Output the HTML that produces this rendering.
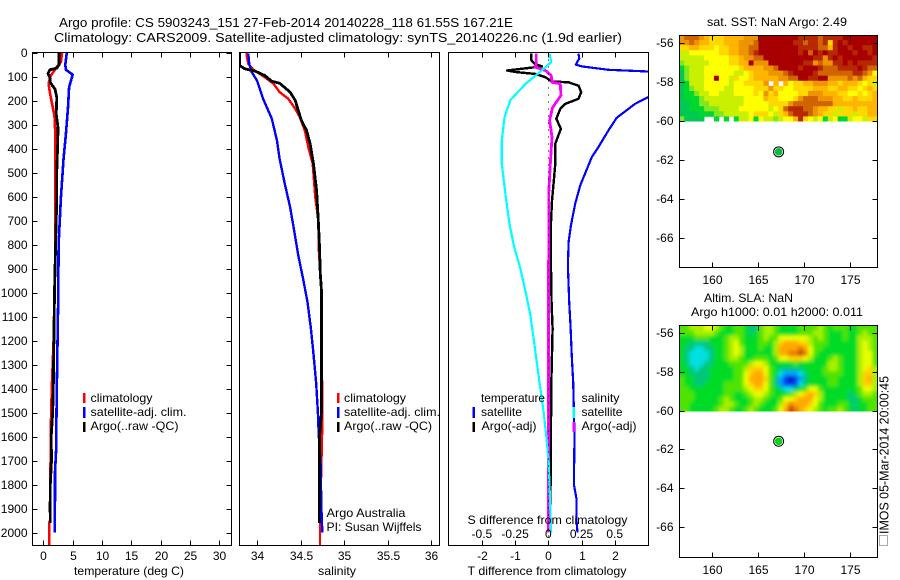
<!DOCTYPE html>
<html lang="en">
<head>
<meta charset="utf-8">
<title>Argo profile 5903243_151</title>
<style>
html,body{margin:0;padding:0;background:#fff;}
svg{display:block;}
text{font-family:"Liberation Sans",sans-serif;font-size:12px;fill:#000;}
.t{font-size:13px;}
</style>
</head>
<body>
<svg id="fig" xmlns="http://www.w3.org/2000/svg" width="900" height="580" viewBox="0 0 900 580">
<defs>
<clipPath id="c1"><rect x="32.5" y="52.5" width="199" height="493"/></clipPath>
<clipPath id="c2"><rect x="239.5" y="52.5" width="200" height="493"/></clipPath>
<clipPath id="c3"><rect x="448.5" y="52.5" width="200" height="493"/></clipPath>
<clipPath id="cm1"><rect x="679" y="35" width="198" height="86.5"/></clipPath>
<clipPath id="cm2"><rect x="679" y="325" width="198" height="86.5"/></clipPath>
<filter id="soft" x="-5%" y="-5%" width="110%" height="110%"><feGaussianBlur stdDeviation="1.9"/></filter>
</defs>
<rect width="900" height="580" fill="#fff"/>
<text class="t" x="59" y="27" textLength="454" lengthAdjust="spacingAndGlyphs">Argo profile: CS 5903243_151 27-Feb-2014 20140228_118 61.55S 167.21E</text>
<text class="t" x="54" y="42" textLength="568" lengthAdjust="spacingAndGlyphs">Climatology: CARS2009. Satellite-adjusted climatology: synTS_20140226.nc (1.9d earlier)</text>
<text x="707" y="26" textLength="140" lengthAdjust="spacingAndGlyphs">sat. SST: NaN Argo: 2.49</text>
<text x="704" y="302" textLength="89" lengthAdjust="spacingAndGlyphs">Altim. SLA: NaN</text>
<text x="691" y="316" textLength="172" lengthAdjust="spacingAndGlyphs">Argo h1000: 0.01 h2000: 0.011</text>
<g id="heat1" clip-path="url(#cm1)"></g>
<g clip-path="url(#cm2)"><g id="heat2" filter="url(#soft)"></g></g>
<g id="lines1" clip-path="url(#c1)" shape-rendering="crispEdges"></g>
<g id="lines2" clip-path="url(#c2)" shape-rendering="crispEdges"></g>
<g id="lines3" clip-path="url(#c3)" shape-rendering="crispEdges"></g>
<g id="axes" shape-rendering="crispEdges"></g>
<g id="labels"></g>
<text x="74" y="575" textLength="110" lengthAdjust="spacingAndGlyphs">temperature (deg C)</text>
<text x="318" y="575" textLength="38" lengthAdjust="spacingAndGlyphs">salinity</text>
<text x="467.5" y="575" textLength="159" lengthAdjust="spacingAndGlyphs">T difference from climatology</text>
<text x="467.5" y="524" textLength="160" lengthAdjust="spacingAndGlyphs">S difference from climatology</text>
<g>
<rect x="83" y="393" width="2.5" height="10" fill="#f00"/>
<text x="90.5" y="402" textLength="62" lengthAdjust="spacingAndGlyphs">climatology</text>
<rect x="83" y="407" width="2.5" height="11" fill="#00f"/>
<text x="90.5" y="416" textLength="96" lengthAdjust="spacingAndGlyphs">satellite-adj. clim.</text>
<rect x="83" y="422" width="2.5" height="10" fill="#000"/>
<text x="90.5" y="430" textLength="88" lengthAdjust="spacingAndGlyphs">Argo(..raw -QC)</text>
</g>
<g>
<rect x="337" y="393" width="2.5" height="10" fill="#f00"/>
<text x="344" y="402" textLength="62" lengthAdjust="spacingAndGlyphs">climatology</text>
<rect x="337" y="407" width="2.5" height="11" fill="#00f"/>
<text x="344" y="416" textLength="96" lengthAdjust="spacingAndGlyphs">satellite-adj. clim.</text>
<rect x="337" y="422" width="2.5" height="10" fill="#000"/>
<text x="344" y="430" textLength="88" lengthAdjust="spacingAndGlyphs">Argo(..raw -QC)</text>
<text x="326.5" y="517" textLength="79" lengthAdjust="spacingAndGlyphs">Argo Australia</text>
<text x="326.5" y="531" textLength="95" lengthAdjust="spacingAndGlyphs">PI: Susan Wijffels</text>
</g>
<g>
<text x="481" y="402" textLength="64" lengthAdjust="spacingAndGlyphs">temperature</text>
<rect x="472.5" y="407" width="2.5" height="11" fill="#00f"/>
<text x="481" y="416" textLength="41" lengthAdjust="spacingAndGlyphs">satellite</text>
<rect x="472.5" y="422" width="2.5" height="10" fill="#000"/>
<text x="481.5" y="430" textLength="55" lengthAdjust="spacingAndGlyphs">Argo(-adj)</text>
<text x="581.5" y="402" textLength="38" lengthAdjust="spacingAndGlyphs">salinity</text>
<rect x="572.5" y="407" width="2.5" height="11" fill="#0ff"/>
<text x="581.5" y="416" textLength="41" lengthAdjust="spacingAndGlyphs">satellite</text>
<rect x="572.5" y="422" width="2.5" height="10" fill="#f0f"/>
<text x="581.5" y="430" textLength="55" lengthAdjust="spacingAndGlyphs">Argo(-adj)</text>
</g>
<rect x="879.5" y="535.5" width="8" height="10" fill="none" stroke="#555" stroke-width="1" stroke-dasharray="1 1" shape-rendering="crispEdges"/>
<text style="font-size:13px" transform="translate(888.5,534) rotate(-90)" x="0" y="0" textLength="158" lengthAdjust="spacingAndGlyphs">IMOS 05-Mar-2014 20:00:45</text>
<script>
// ---------- Temperature panel data ----------
const tempClimDepths=[0,40,60,100,130,165,215,265,340,600,850,1000,1200,1400,1600,1700,1800,1950,1960,2054];
const tempClimValues=[3.2,3.0,2.3,1.2,0.9,1.1,1.5,1.9,2.05,2.05,2.05,1.9,1.75,1.45,1.25,1.25,1.15,1.15,1.0,1.0];
const tempSatDepths=[0,50,72,92,145,230,340,440,605,800,1000,1400,1500,1650,1750,1850,2000];
const tempSatValues=[4.0,3.75,3.85,5.0,4.4,4.2,3.85,3.45,3.0,2.6,2.55,2.3,2.25,2.2,2.0,2.0,1.95];
const tempArgoDepths=[0,50,65,72,88,110,125,153,188,257,313,382,493,605,800,1000,1200,1400,1500,1600,1700,1800,1900,1960];
const tempArgoValues=[2.7,2.7,2.3,1.1,0.8,1.2,1.2,2.0,2.3,2.2,2.5,2.45,2.3,2.3,2.1,1.9,1.8,1.7,1.6,1.35,1.4,1.2,1.15,1.2];
// ---------- Salinity panel data ----------
const salClimDepths=[0,20,47,72,103,130,165,193,235,267,325,394,464,603,700,820,1000,1500,1550,1960,2054];
const salClimValues=[33.88,33.885,33.9,33.96,34.09,34.19,34.26,34.36,34.44,34.49,34.55,34.59,34.64,34.67,34.705,34.71,34.74,34.75,34.75,34.724,34.724];
const salSatDepths=[5,47,82,117,193,276,367,443,547,644,721,846,943,1040,1150,1248,1380,1500,1600,1700,1900,2000];
const salSatValues=[33.9,33.91,33.94,34.0,34.07,34.17,34.23,34.26,34.32,34.38,34.417,34.475,34.53,34.58,34.62,34.647,34.68,34.7,34.71,34.73,34.74,34.75];
const salArgoDepths=[0,54,68,78,96,120,128,165,200,242,283,325,380,464,575,700,818,915,1000,1500,1600,1800,1960];
const salArgoValues=[33.8,33.8,33.86,33.98,34.09,34.17,34.26,34.38,34.44,34.475,34.51,34.57,34.61,34.65,34.685,34.705,34.72,34.727,34.743,34.74,34.72,34.72,34.715];
// ---------- Difference panel data ----------
const diffTSatDepths=[5,25,51,58,72,79,120,175,186,214,272,325,394,436,554,630,721,790,888,1040,1138,1276,1374,1600,1800,1860,1950,2000];
const diffTSatValues=[0.91,0.93,0.83,1.01,1.81,3.01,4.6,3.6,3.01,2.61,2.06,1.81,1.51,1.31,0.96,0.81,0.68,0.61,0.59,0.63,0.67,0.71,0.75,0.79,0.77,0.85,0.85,0.88];
const diffTArgoDepths=[5,33,47,58,75,82,89,103,121,124,138,165,193,214,235,276,318,380,464,617,742,900,1050,1150,1380,1960];
const diffTArgoValues=[-0.51,-0.51,-0.41,-0.19,-1.24,-0.94,-0.39,-0.09,0.11,0.61,0.91,0.99,0.91,0.51,0.36,0.24,0.38,0.21,0.21,0.11,0.07,0.08,0.1,0.13,0.09,0.06];
const diffSArgoDepths=[5,47,61,75,96,124,130,179,230,283,353,436,589,742,2000];
const diffSArgoValues=[-0.09,-0.09,-0.1,-0.022,0.022,0.028,0.09,0.095,0.032,0.01,0.028,0.018,0.003,0.003,0.0];
const diffSSatDepths=[5,40,75,130,197,269,367,464,603,721,804,901,999,1096,1193,1276,1380,1500,1600,1700,1900,2000];
const diffSSatValues=[0.01,0.022,-0.05,-0.17,-0.285,-0.33,-0.35,-0.35,-0.32,-0.29,-0.26,-0.21,-0.17,-0.135,-0.11,-0.09,-0.065,-0.035,-0.015,0.0025,0.015,0.022];
// ---------- Tick labels ----------
const depthTicks=[0,100,200,300,400,500,600,700,800,900,1000,1100,1200,1300,1400,1500,1600,1700,1800,1900,2000];
const tempTicks=[0,5,10,15,20,25,30];
const salTicks=[34,34.5,35,35.5,36];
const diffTTicks=[-2,-1,0,1,2];
const diffSTicks=[-0.5,-0.25,0,0.25,0.5];
const lonTicks=[160,165,170,175];
const latTicks=[-56,-58,-60,-62,-64,-66];
const floatLon=167.21;
const floatLat=-61.55;
// ---------- SST map grid (colour index, null = no data) ----------
const sstColors=["#00c850","#00d830","#80e820","#c8f000","#ffff00","#ffd800","#ffb400","#ee9400","#d06400","#b82800","#a80000"];
const sstGrid=[
[7,8,8,8,7,6,5,5,5,6,6,6,6,7,7,7,10,10,10,10,10,10,10,10,9,9,9,9,8,9,9,9,9,10,10,10,10,10,10,10],
[7,7,8,7,6,6,5,5,5,6,6,6,7,7,7,8,10,10,10,10,10,10,10,9,9,8,9,9,8,9,5,9,10,9,10,10,10,10,10,10],
[5,5,6,6,5,5,5,4,5,5,6,6,7,7,8,8,10,10,10,10,10,10,10,10,9,9,9,9,8,8,6,9,10,10,9,10,10,9,9,10],
[3,3,4,4,4,4,4,4,5,5,6,6,7,7,8,9,10,10,10,10,10,10,10,10,9,10,8,10,9,10,9,9,10,10,10,9,10,10,9,10],
[3,3,3,3,3,4,4,4,4,4,5,5,6,7,7,8,8,10,10,10,10,10,10,10,10,10,10,9,9,7,9,10,9,10,10,10,10,10,10,9],
[2,3,3,3,3,3,4,4,4,4,5,5,6,6,10,7,7,7,10,10,10,10,10,10,10,9,9,7,8,7,7,9,9,10,9,10,9,9,9,9],
[1,2,3,3,3,4,4,4,4,4,4,4,5,6,6,6,6,7,7,8,10,10,10,10,9,10,10,10,9,8,8,8,9,9,9,9,10,9,8,8],
[0,2,3,3,3,4,4,4,4,4,4,3,3,4,5,6,6,6,7,7,7,8,9,10,10,10,10,9,8,8,8,8,8,8,8,9,9,8,7,4],
[0,2,3,3,3,4,4,10,4,4,3,5,4,4,5,6,6,6,6,6,7,7,8,8,10,10,9,9,10,10,7,7,7,7,8,7,8,6,5,5],
[0,1,3,3,3,4,4,4,4,4,3,4,4,5,5,5,5,7,null,6,null,6,4,5,5,6,6,7,7,7,6,6,5,6,6,6,5,4,5,3],
[0,1,2,3,3,4,4,4,4,3,3,4,4,4,4,5,5,5,7,5,5,4,4,5,5,5,5,6,6,6,5,5,6,6,5,5,4,5,6,5],
[0,1,1,2,3,3,4,4,3,3,3,4,4,4,4,5,4,7,5,6,4,4,4,4,5,5,7,7,7,6,6,6,5,5,4,4,5,4,5,6],
[0,1,1,1,2,3,3,3,3,3,3,3,3,4,4,4,4,6,5,5,4,4,4,5,7,8,8,8,7,7,7,6,6,5,5,6,5,5,5,6],
[0,0,1,1,2,2,3,3,3,3,3,3,3,4,4,4,4,4,5,5,5,5,7,8,8,8,8,8,8,8,8,6,6,6,6,6,6,6,6,6],
[0,0,1,1,1,2,2,2,3,3,3,3,4,4,4,4,4,4,3,4,5,8,9,9,9,8,8,7,6,6,5,5,3,5,5,6,5,5,6,6],
[0,0,0,0,1,1,1,2,2,3,3,3,3,3,4,5,5,5,4,3,5,6,8,9,9,9,8,7,6,5,5,3,5,5,5,3,5,5,6,6],
[2,0,0,0,0,null,null,1,null,1,null,1,3,3,4,1,4,3,3,2,3,4,4,6,9,5,4,3,4,1,3,4,1,1,3,4,4,3,5,5]
];
// ---------- SLA map grid (colour index) ----------
const slaColors=["#0000a8","#0040f0","#00a0ff","#00e0e0","#00c878","#00dc28","#50e400","#a8f000","#e8ff00","#ffd000","#ffa800","#e87800","#c04000"];
const slaGrid=[
[6,6,7,7,7,8,8,7,6,5,5,6,6,5,4,4,6,7,7,6,5,5,5,5,6,6,6,6,7,6,5,6,6,6,5,5,6,6,6,6],
[6,6,6,7,7,7,7,6,5,5,5,6,6,5,4,5,6,7,7,6,5,5,5,5,6,6,6,7,7,6,5,5,5,6,5,5,6,7,6,6],
[5,5,5,6,6,6,5,5,5,6,7,7,6,5,5,5,6,7,6,6,8,8,8,8,8,8,7,6,7,6,5,5,5,6,5,5,7,7,7,6],
[5,5,4,4,4,4,5,5,5,6,7,8,6,5,5,5,6,6,5,7,9,10,10,10,9,9,7,6,6,6,5,5,5,5,5,5,7,8,7,6],
[5,4,4,3,3,4,4,5,5,6,7,8,7,5,5,5,6,5,5,7,10,10,10,10,11,10,8,6,6,5,5,5,5,5,5,5,7,8,7,6],
[5,4,3,3,3,3,4,5,5,6,7,8,7,5,5,5,5,5,5,7,10,10,11,11,12,11,8,6,5,5,5,5,5,5,5,5,7,8,8,6],
[5,4,3,3,3,3,4,5,5,6,7,7,6,5,5,6,6,6,5,6,8,8,9,9,9,8,7,5,5,5,6,7,6,5,5,5,7,8,8,6],
[5,4,3,3,3,4,4,5,5,5,6,6,6,6,7,8,8,7,5,5,5,5,5,6,5,5,5,5,5,5,7,7,6,5,5,5,7,8,8,6],
[5,5,4,3,4,4,5,5,5,5,5,6,6,7,9,9,9,8,6,5,4,4,4,4,4,5,5,5,5,6,7,7,6,5,5,5,7,8,9,7],
[5,5,4,4,4,4,5,5,5,5,5,6,6,8,9,10,10,8,6,5,3,2,2,2,3,4,5,5,5,6,6,6,6,5,5,5,7,9,9,7],
[6,5,5,4,4,4,5,5,5,5,5,6,6,8,10,10,10,9,6,4,2,1,0,1,2,4,5,5,5,5,6,6,5,5,5,5,7,9,10,7],
[6,5,5,4,4,5,5,5,5,6,6,6,6,8,9,10,10,8,6,4,2,1,1,1,3,4,5,5,5,5,6,6,5,5,5,5,7,9,9,7],
[6,6,5,5,5,5,5,5,5,6,6,6,6,7,8,9,9,8,6,5,4,3,3,4,5,6,8,8,6,5,5,5,5,5,5,5,6,8,8,7],
[6,6,6,5,5,5,5,5,5,6,6,5,5,6,7,8,8,7,6,5,5,5,6,7,8,9,10,9,7,5,5,5,5,5,4,5,6,7,7,6],
[6,6,6,5,5,5,5,5,6,7,6,5,5,5,6,7,7,6,5,5,6,8,8,9,10,10,10,8,7,5,5,5,5,5,4,4,5,6,6,6],
[6,6,5,5,5,5,5,5,6,7,7,6,5,5,6,7,6,5,5,5,7,9,11,10,10,10,9,8,6,5,5,5,6,6,5,4,5,5,6,6],
[6,6,5,5,5,5,5,6,7,7,6,5,5,6,7,6,5,5,5,6,8,10,12,11,10,9,8,7,6,5,6,6,7,6,5,4,5,5,6,6]
];

const NS="http://www.w3.org/2000/svg";
// ---------- Axis functions ----------
const yDepth=d=>52.5+d*0.24;
const xTemp=t=>43.3+t*5.87;
const xSal=s=>257+(s-34)*87;
const xDiffT=t=>548.3+t*33.2;
const xDiffS=s=>xDiffT(s*4);
const xLon=l=>712.3+(l-160)*9.2;
const yLat1=l=>42.8+(-56-l)*19.5;
const yLat2=l=>333+(-56-l)*19.4;

function svgEl(tag,parent,attrs){
  const el=document.createElementNS(NS,tag);
  for(const k in attrs) el.setAttribute(k,attrs[k]);
  parent.appendChild(el);
  return el;
}
function drawLine(groupId,depths,values,xFn,color,width,name){
  const pts=depths.map((d,i)=>xFn(values[i]).toFixed(1)+","+yDepth(d).toFixed(1)).join(" ");
  const el=svgEl("polyline",document.getElementById(groupId),{points:pts,fill:"none",stroke:color,"stroke-width":width,"stroke-linejoin":"round"});
  
  
}
function drawTick(x1,y1,x2,y2){
  const el=svgEl("line",document.getElementById("axes"),{x1:x1,y1:y1,x2:x2,y2:y2,stroke:"#000","stroke-width":1});
  
  
}
function drawFrame(x,y,w,h,name){
  const el=svgEl("rect",document.getElementById("axes"),{x:x,y:y,width:w,height:h,fill:"none",stroke:"#000","stroke-width":1});
  
  
}
function drawLabel(x,y,str,anchor){
  const el=svgEl("text",document.getElementById("labels"),{x:x,y:y,"text-anchor":anchor});
  el.textContent=str;
  
  
}
function drawHeat(groupId,grid,colors,x0,y0,w,h,extend){
  const g=document.getElementById(groupId);
  const rows=grid.length;
  grid.forEach((row,r)=>{
    row.forEach((v,c)=>{
      if(v===null) return;
      const cw=w/row.length, ch=h/rows;
      let x=x0+c*cw, y=y0+r*ch, rw=cw+0.4, rh=ch+0.4;
      if(extend){
        if(c===0){x-=8;rw+=8;}
        if(c===row.length-1){rw+=8;}
        if(r===0){y-=8;rh+=8;}
        if(r===rows-1){rh+=8;}
      }
      const el=svgEl("rect",g,{x:x.toFixed(2),y:y.toFixed(2),width:rw.toFixed(2),height:rh.toFixed(2),fill:colors[v]});
      
      
    });
  });
}
function drawMarker(x,y,fill){
  const g=document.getElementById("labels");
  const ring=svgEl("circle",g,{cx:x,cy:y,r:5,fill:"#fff",stroke:"#000","stroke-width":1});
  
  
  const dot=svgEl("circle",g,{cx:x,cy:y,r:3.8,fill:fill});
  
  
}

// Heatmaps
drawHeat("heat1",sstGrid,sstColors,679.3,35,198,86.5,false);
drawHeat("heat2",slaGrid,slaColors,679.3,325.3,198,86.5,true);

// Series
drawLine("lines1",tempClimDepths,tempClimValues,xTemp,"#f00",2.6,"temperature-climatology-line");
drawLine("lines1",tempSatDepths,tempSatValues,xTemp,"#00f",2.6,"temperature-satellite-line");
drawLine("lines1",tempArgoDepths,tempArgoValues,xTemp,"#000",2.8,"temperature-argo-line");
drawLine("lines2",salClimDepths,salClimValues,xSal,"#f00",2.4,"salinity-climatology-line");
drawLine("lines2",salSatDepths,salSatValues,xSal,"#00f",2.4,"salinity-satellite-line");
drawLine("lines2",salArgoDepths,salArgoValues,xSal,"#000",2.8,"salinity-argo-line");
drawLine("lines3",diffTSatDepths,diffTSatValues,xDiffT,"#00f",2.2,"t-difference-satellite-line");
drawLine("lines3",diffTArgoDepths,diffTArgoValues,xDiffT,"#000",2.4,"t-difference-argo-line");
drawLine("lines3",diffSArgoDepths,diffSArgoValues,xDiffS,"#f0f",2.8,"s-difference-argo-line");
drawLine("lines3",diffSSatDepths,diffSSatValues,xDiffS,"#0ff",2.2,"s-difference-satellite-line");
const zero=svgEl("line",document.getElementById("lines3"),{x1:xDiffT(0),y1:52.5,x2:xDiffT(0),y2:545.5,stroke:"#000","stroke-width":1,"stroke-dasharray":"1 6"});



// Frames
drawFrame(32.5,52.5,199,493,"temperature-axes-frame");
drawFrame(239.5,52.5,200,493,"salinity-axes-frame");
drawFrame(448.5,52.5,200,493,"difference-axes-frame");
drawFrame(679.5,35.5,198,232,"sst-map-frame");
drawFrame(679.5,325.5,198,232,"sla-map-frame");

// Depth ticks
depthTicks.forEach(d=>{
  const y=Math.round(yDepth(d))+0.5;
  drawTick(32.5,y,37.5,y);
  drawTick(226.5,y,231.5,y);
  drawLabel(27.5,y+3.5,String(d),"end");
});
// Temperature ticks
tempTicks.forEach(t=>{
  const x=Math.round(xTemp(t))+0.5;
  drawTick(x,52.5,x,57.5);
  drawTick(x,540.5,x,545.5);
  drawLabel(x,560,String(t),"middle");
});
// Salinity ticks
salTicks.forEach(s=>{
  const x=Math.round(xSal(s))+0.5;
  drawTick(x,52.5,x,57.5);
  drawTick(x,540.5,x,545.5);
  drawLabel(x,560,String(s),"middle");
});
// Difference ticks
diffTTicks.forEach(t=>{
  const x=Math.round(xDiffT(t))+0.5;
  drawTick(x,52.5,x,57.5);
  drawTick(x,540.5,x,545.5);
  drawLabel(x,560,String(t),"middle");
});
diffSTicks.forEach(s=>{
  drawLabel(xDiffS(s),538,String(s),"middle");
});
// Map ticks
lonTicks.forEach(l=>{
  const x=Math.round(xLon(l))+0.5;
  drawTick(x,35.5,x,40.5);
  drawTick(x,262.5,x,267.5);
  drawLabel(x,284,String(l),"middle");
  drawTick(x,325.5,x,330.5);
  drawTick(x,552.5,x,557.5);
  drawLabel(x,574,String(l),"middle");
});
latTicks.forEach(l=>{
  const y1=Math.round(yLat1(l))+0.5;
  drawTick(679.5,y1,684.5,y1);
  drawTick(872.5,y1,877.5,y1);
  drawLabel(673.5,y1+3.5,String(l),"end");
  const y2=Math.round(yLat2(l))+0.5;
  drawTick(679.5,y2,684.5,y2);
  drawTick(872.5,y2,877.5,y2);
  drawLabel(673.5,y2+3.5,String(l),"end");
});
// Float position
drawMarker(xLon(floatLon),yLat1(floatLat)+0.8,"#00c040");
drawMarker(xLon(floatLon),yLat2(floatLat)+0.6,"#00d810");
</script>
</svg>
</body>
</html>
